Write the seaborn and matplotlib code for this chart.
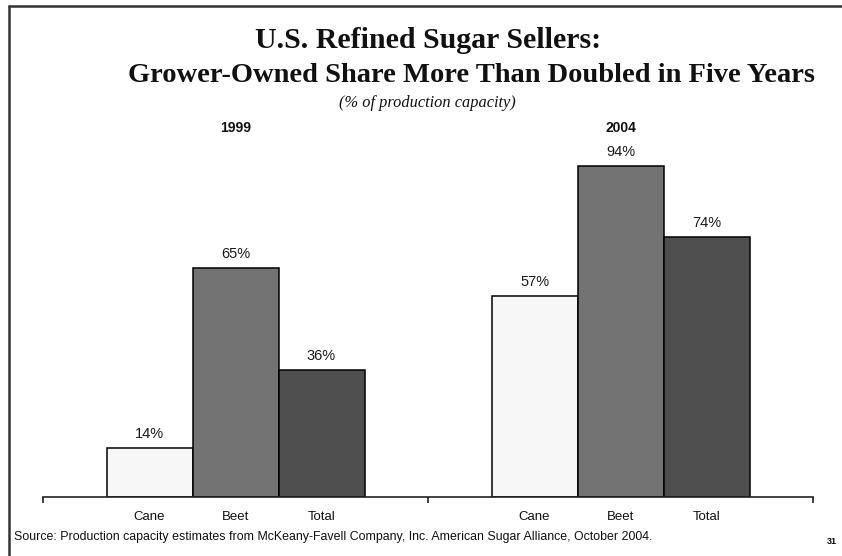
"""
U.S. refined sugar sellers: grower-owned share of production capacity, 1999 vs 2004
"""
import pandas as pd
import matplotlib
matplotlib.use('Agg')
import matplotlib.pyplot as plt
from matplotlib.lines import Line2D
import seaborn as sns

years = ['1999', '2004']
sectors = ['Cane', 'Beet', 'Total']
cane = [14, 57]
beet = [65, 94]
total = [36, 74]
bar_colors = ['#f7f7f7', '#737373', '#4f4f4f']

df = pd.DataFrame({
    'year': years * 3,
    'sector': [s for s in sectors for _ in years],
    'share': cane + beet + total,
})

sns.set_theme(style='white')
plt.rcParams['font.family'] = ['Liberation Sans', 'DejaVu Sans']

fig = plt.figure(figsize=(8.42, 5.56), dpi=100)
ax = fig.add_axes([0.0511, 0.1061, 0.9145, 0.633])

sns.barplot(data=df, x='year', y='share', hue='sector', order=years,
            hue_order=sectors, palette=bar_colors, width=0.67,
            edgecolor='black', linewidth=1.1, saturation=1, legend=False, ax=ax)

for cont in ax.containers:
    ax.bar_label(cont, fmt='%d%%', padding=5, fontsize=10.5, color='#1a1a1a')

ax.set_ylim(0, 100)
ax.set_xlim(-0.5, 1.5)
ax.set_xlabel('')
ax.set_ylabel('')
ax.set_yticks([])
for side in ['top', 'right', 'left']:
    ax.spines[side].set_visible(False)
ax.spines['bottom'].set_color('#222222')
ax.spines['bottom'].set_linewidth(1.2)

# group boundary ticks on the baseline, bar names under each bar
ax.set_xticks([-0.5, 0.5, 1.5])
ax.set_xticklabels(['', '', ''])
ax.tick_params(axis='x', which='major', direction='out', length=4, width=1.2,
               color='#222222', bottom=True)
centers, names = [], []
for cont, name in zip(ax.containers, sectors):
    for p in cont.patches:
        centers.append(p.get_x() + p.get_width() / 2)
        names.append(name)
ax.set_xticks(centers, minor=True)
ax.set_xticklabels(names, minor=True, fontsize=9.5, color='#111111')
ax.tick_params(axis='x', which='minor', length=0, pad=10)

# year headers above each group
for i, yr in enumerate(years):
    ax.text(i, 1.0 + 17 / 352, yr, transform=ax.get_xaxis_transform(),
            ha='center', va='center', fontsize=10, fontweight='bold',
            color='#111111')

fig.text(0.508, 1 - 40 / 556, 'U.S. Refined Sugar Sellers:', ha='center',
         va='center', fontsize=21.5, fontweight='bold',
         family='Liberation Serif', color='#111111')
fig.text(0.560, 1 - 75 / 556, 'Grower-Owned Share More Than Doubled in Five Years',
         ha='center', va='center', fontsize=20.5, fontweight='bold',
         family='Liberation Serif', color='#111111')
fig.text(0.507, 1 - 103 / 556, '(% of production capacity)', ha='center',
         va='center', fontsize=11.8, style='italic', family='Liberation Serif',
         color='#111111')

fig.text(14 / 842, 1 - 537 / 556,
         'Source: Production capacity estimates from McKeany-Favell Company, Inc. '
         'American Sugar Alliance, October 2004.',
         ha='left', va='center', fontsize=8.9, color='#111111')
fig.text(832 / 842, 1 - 542 / 556, '31', ha='center', va='center',
         fontsize=6.5, fontweight='bold', color='#111111')

# page frame (left and top edges)
fig.add_artist(Line2D([9 / 842, 9 / 842], [0, 1 - 6 / 556], color='#333333',
                      lw=1.8, transform=fig.transFigure))
fig.add_artist(Line2D([9 / 842, 1], [1 - 6 / 556, 1 - 6 / 556], color='#333333',
                      lw=1.8, transform=fig.transFigure))

fig.savefig('out.png', dpi=100)
